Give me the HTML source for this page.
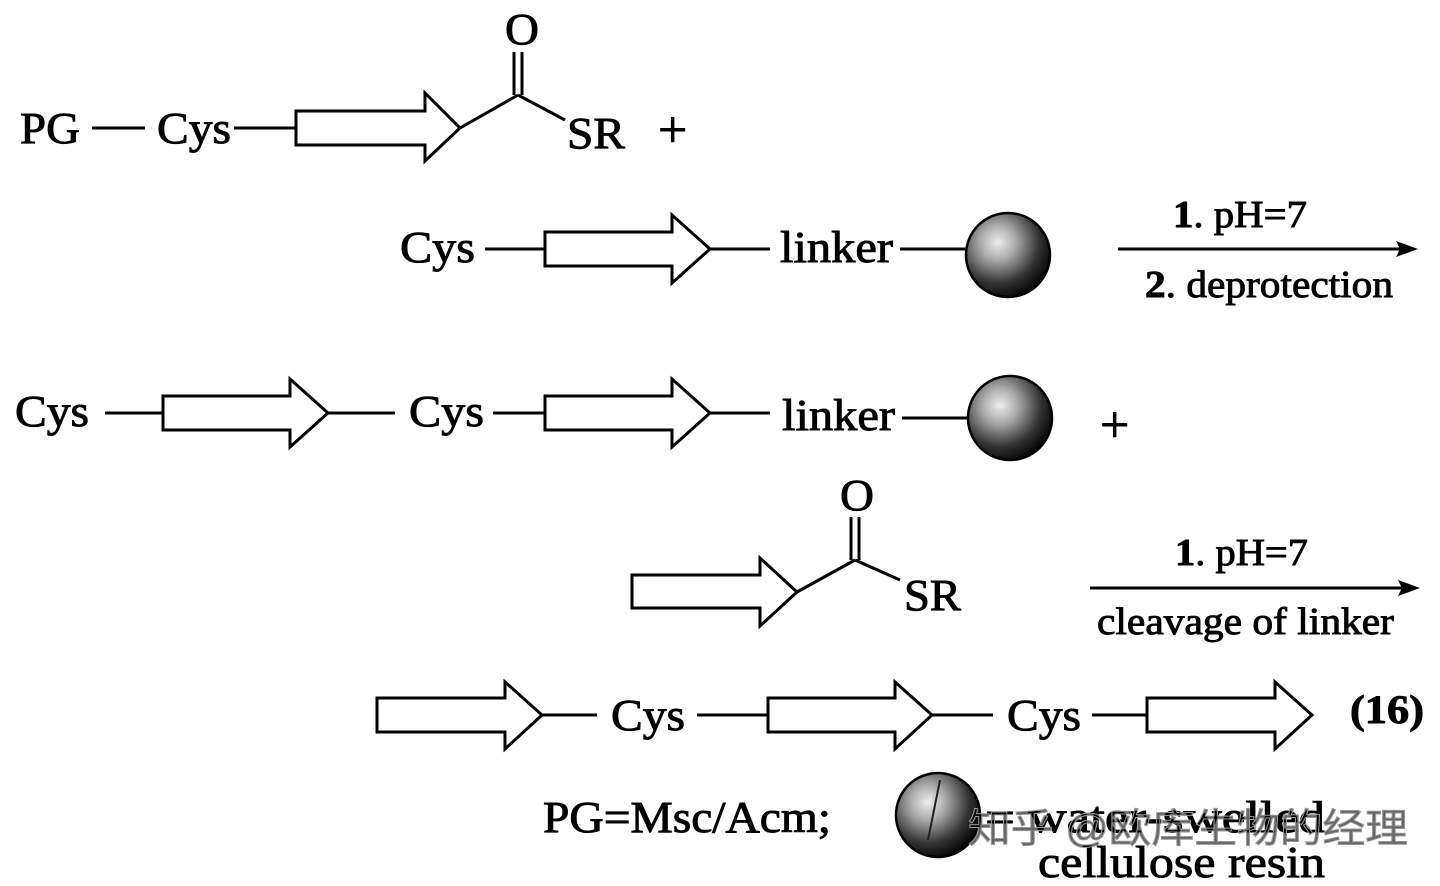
<!DOCTYPE html>
<html><head><meta charset="utf-8"><style>
html,body{margin:0;padding:0;background:#fff;}
svg{display:block}
text{font-family:"Liberation Serif",serif;fill:#000;}
.t text{stroke:#000;stroke-width:0.9;}
</style></head><body>
<svg width="1440" height="886" viewBox="0 0 1440 886" xmlns="http://www.w3.org/2000/svg">
<defs>
<radialGradient id="g" cx="0.38" cy="0.35" r="0.7">
<stop offset="0" stop-color="#eee"/><stop offset="0.3" stop-color="#aaa"/><stop offset="0.7" stop-color="#333"/><stop offset="1" stop-color="#000"/>
</radialGradient>
</defs>
<g stroke="#000" stroke-width="3" fill="none">
<line x1="92" y1="128" x2="145" y2="128"/>
<line x1="234" y1="128" x2="296" y2="128"/>
<path d="M296 111 H425 V93 L460 128 L425 161 V145 H296 Z" fill="#fff"/>
<line x1="460" y1="128" x2="518" y2="95"/>
<line x1="514" y1="95" x2="514" y2="52"/><line x1="522" y1="95" x2="522" y2="52"/>
<line x1="518" y1="95" x2="565" y2="120"/>
<line x1="485" y1="249" x2="545" y2="249"/>
<path d="M545 232 H672 V215 L710 249 L672 283 V266 H545 Z" fill="#fff"/>
<line x1="710" y1="249" x2="770" y2="249"/>
<line x1="900" y1="249" x2="968" y2="249"/>
<line x1="1118" y1="249" x2="1405" y2="249"/>
<line x1="105" y1="413" x2="163" y2="413"/>
<path d="M163 396 H290 V379 L328 413 L290 447 V430 H163 Z" fill="#fff"/>
<line x1="328" y1="413" x2="395" y2="413"/>
<line x1="493" y1="413" x2="545" y2="413"/>
<path d="M545 396 H672 V379 L710 413 L672 447 V430 H545 Z" fill="#fff"/>
<line x1="710" y1="413" x2="770" y2="413"/>
<line x1="902" y1="418" x2="968" y2="418"/>
<path d="M632 575 H760 V558 L797 592 L760 626 V608 H632 Z" fill="#fff"/>
<line x1="797" y1="592" x2="855" y2="560"/>
<line x1="851" y1="560" x2="851" y2="517"/><line x1="859" y1="560" x2="859" y2="517"/>
<line x1="855" y1="560" x2="900" y2="580"/>
<line x1="1090" y1="588" x2="1408" y2="588"/>
<path d="M377 698 H505 V682 L542 715 L505 749 V732 H377 Z" fill="#fff"/>
<line x1="542" y1="715" x2="597" y2="715"/>
<line x1="697" y1="715" x2="768" y2="715"/>
<path d="M768 698 H895 V682 L932 715 L895 749 V732 H768 Z" fill="#fff"/>
<line x1="932" y1="715" x2="993" y2="715"/>
<line x1="1092" y1="715" x2="1147" y2="715"/>
<path d="M1147 698 H1275 V682 L1312 715 L1275 749 V732 H1147 Z" fill="#fff"/>
</g>
<path d="M1418 249 L1396 241 L1400 249 L1396 257 Z" fill="#000"/>
<path d="M1420 588 L1398 580 L1402 588 L1398 596 Z" fill="#000"/>
<circle cx="1008" cy="255" r="42" fill="url(#g)" stroke="#000" stroke-width="2.5"/>
<circle cx="1010" cy="418" r="42" fill="url(#g)" stroke="#000" stroke-width="2.5"/>
<circle cx="938" cy="815" r="42" fill="url(#g)" stroke="#000" stroke-width="2.5"/>
<line x1="940" y1="780" x2="928" y2="840" stroke="#222" stroke-width="2"/>
<g font-size="44" class="t">
<text x="20" y="143" textLength="60" lengthAdjust="spacingAndGlyphs">PG</text>
<text x="157" y="143" textLength="74" lengthAdjust="spacingAndGlyphs">Cys</text>
<text x="505" y="44" textLength="34" lengthAdjust="spacingAndGlyphs">O</text>
<text x="567" y="148" textLength="58" lengthAdjust="spacingAndGlyphs">SR</text>
<text x="658" y="147" font-size="52">+</text>
<text x="400" y="262" textLength="75" lengthAdjust="spacingAndGlyphs">Cys</text>
<text x="780" y="262" textLength="113" lengthAdjust="spacingAndGlyphs">linker</text>
<text x="15" y="426" textLength="74" lengthAdjust="spacingAndGlyphs">Cys</text>
<text x="409" y="426" textLength="75" lengthAdjust="spacingAndGlyphs">Cys</text>
<text x="782" y="430" textLength="113" lengthAdjust="spacingAndGlyphs">linker</text>
<text x="1100" y="442" font-size="52">+</text>
<text x="840" y="510" textLength="34" lengthAdjust="spacingAndGlyphs">O</text>
<text x="904" y="610" textLength="57" lengthAdjust="spacingAndGlyphs">SR</text>
<text x="611" y="730" textLength="74" lengthAdjust="spacingAndGlyphs">Cys</text>
<text x="1007" y="730" textLength="74" lengthAdjust="spacingAndGlyphs">Cys</text>
<text x="1350" y="723" font-weight="bold" font-size="40" textLength="74" lengthAdjust="spacingAndGlyphs">(16)</text>
<text x="543" y="832" textLength="288" lengthAdjust="spacingAndGlyphs">PG=Msc/Acm;</text>
<text x="985" y="832" textLength="340" lengthAdjust="spacingAndGlyphs">= water-swelled</text>
<text x="1038" y="877" textLength="287" lengthAdjust="spacingAndGlyphs">cellulose resin</text>
</g>
<g font-size="38" class="t">
<text x="1173" y="227" textLength="134" lengthAdjust="spacingAndGlyphs"><tspan font-weight="bold">1</tspan>. pH=7</text>
<text x="1145" y="297" textLength="248" lengthAdjust="spacingAndGlyphs"><tspan font-weight="bold">2</tspan>. deprotection</text>
<text x="1175" y="565" textLength="133" lengthAdjust="spacingAndGlyphs"><tspan font-weight="bold">1</tspan>. pH=7</text>
<text x="1097" y="634" textLength="297" lengthAdjust="spacingAndGlyphs">cleavage of linker</text>
</g>
<text x="968" y="842" font-size="40" fill="#fff" fill-opacity="0.6" stroke="#999" stroke-width="1" style="font-family:'Liberation Sans','Noto Sans CJK SC',sans-serif" textLength="440" lengthAdjust="spacingAndGlyphs">知乎 @欧库生物的经理</text>
</svg>
</body></html>
